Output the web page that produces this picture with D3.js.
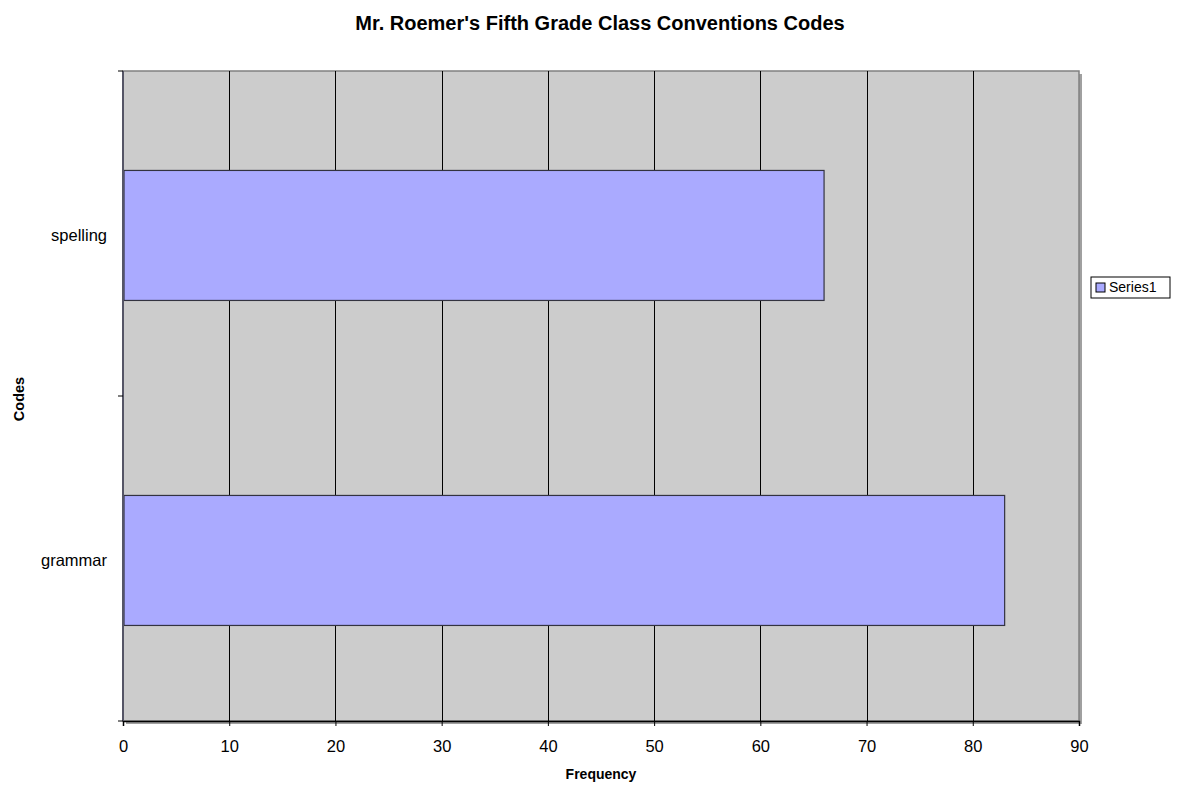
<!DOCTYPE html>
<html>
<head>
<meta charset="utf-8">
<script src="https://cdn.jsdelivr.net/npm/d3@7"></script>
<style>
  html, body { margin: 0; padding: 0; background: #fff; }
  svg { display: block; font-family: "Liberation Sans", Arial, sans-serif; }
</style>
</head>
<body>
<svg id="chart" width="1201" height="787"></svg>
<script>
// Chart data
const categories = ["spelling", "grammar"];
const values = [66, 83];
const xTicks = [0, 10, 20, 30, 40, 50, 60, 70, 80, 90];
const seriesName = "Series1";
const titleText = "Mr. Roemer's Fifth Grade Class Conventions Codes";
const xTitle = "Frequency";
const yTitle = "Codes";

const svg = d3.select("#chart");
const plot = { left: 123, top: 71, right: 1079, bottom: 721 };

const x = d3.scaleLinear().domain([0, 90]).range([plot.left, plot.right]);
const y = d3.scaleBand().domain(categories).range([plot.top, plot.bottom])
  .paddingInner(0.6).paddingOuter(0.3).align(0.51);

// Plot area background with a soft shadow on the right
svg.append("rect")
  .attr("x", plot.left + 3).attr("y", plot.top + 3)
  .attr("width", plot.right - plot.left).attr("height", plot.bottom - plot.top)
  .attr("fill", "#a0a0a0");
svg.append("rect")
  .attr("x", plot.left).attr("y", plot.top)
  .attr("width", plot.right - plot.left).attr("height", plot.bottom - plot.top)
  .attr("fill", "#cccccc")
  .attr("stroke", "#808080").attr("stroke-width", 1.5);

// Vertical gridlines
svg.append("g")
  .selectAll("line")
  .data(xTicks.filter(d => d > 0 && d < 90))
  .join("line")
  .attr("x1", d => Math.round(x(d)) + 0.5).attr("x2", d => Math.round(x(d)) + 0.5)
  .attr("y1", plot.top).attr("y2", plot.bottom)
  .attr("stroke", "#000").attr("stroke-width", 1);

// Bars
svg.append("g")
  .selectAll("rect")
  .data(categories.map((c, i) => ({ c, v: values[i] })))
  .join("rect")
  .attr("x", x(0) + 1)
  .attr("y", d => y(d.c))
  .attr("width", d => x(d.v) - x(0) - 1)
  .attr("height", y.bandwidth())
  .attr("fill", "#aaaaff")
  .attr("stroke", "#333340").attr("stroke-width", 1.2);

// X axis
const xAxis = d3.axisBottom(x).tickValues(xTicks).tickSize(5).tickPadding(14);
const gx = svg.append("g").attr("transform", `translate(0,${plot.bottom})`).call(xAxis);
gx.select(".domain").attr("stroke", "#000").attr("stroke-width", 1.5);
gx.selectAll(".tick line").attr("stroke", "#000");
gx.selectAll(".tick text").attr("font-size", 16.5).attr("fill", "#000")
  .attr("font-family", "'Liberation Sans', Arial, sans-serif");

// Y axis: ticks at category boundaries, labels beside each bar
const yBoundaries = d3.scaleLinear().domain([0, categories.length]).range([plot.top, plot.bottom]);
const gy = svg.append("g");
gy.append("line")
  .attr("x1", plot.left).attr("x2", plot.left)
  .attr("y1", plot.top).attr("y2", plot.bottom)
  .attr("stroke", "#555566").attr("stroke-width", 2);
gy.selectAll("line.tick")
  .data(d3.range(categories.length + 1))
  .join("line").attr("class", "tick")
  .attr("x1", plot.left - 5).attr("x2", plot.left)
  .attr("y1", d => yBoundaries(d)).attr("y2", d => yBoundaries(d))
  .attr("stroke", "#000");
gy.selectAll("text")
  .data(categories)
  .join("text")
  .attr("x", plot.left - 16)
  .attr("y", d => y(d) + y.bandwidth() / 2 + 1)
  .attr("text-anchor", "end").attr("dominant-baseline", "middle")
  .attr("font-size", 16.5).attr("fill", "#000")
  .text(d => d);

// Titles
svg.append("text")
  .attr("x", 600).attr("y", 30)
  .attr("text-anchor", "middle")
  .attr("font-size", 20).attr("font-weight", "bold")
  .text(titleText);
svg.append("text")
  .attr("x", 601).attr("y", 779)
  .attr("text-anchor", "middle")
  .attr("font-size", 14).attr("font-weight", "bold")
  .text(xTitle);
svg.append("text")
  .attr("transform", `translate(24,${(plot.top + plot.bottom) / 2 + 3}) rotate(-90)`)
  .attr("text-anchor", "middle")
  .attr("font-size", 14.5).attr("font-weight", "bold")
  .text(yTitle);

// Legend
const lg = svg.append("g").attr("transform", "translate(1091,277)");
lg.append("rect").attr("x", 0).attr("y", 0).attr("width", 79).attr("height", 21)
  .attr("fill", "#fff").attr("stroke", "#000");
lg.append("rect").attr("x", 5).attr("y", 6).attr("width", 9).attr("height", 9)
  .attr("fill", "#aaaaff").attr("stroke", "#000");
lg.append("text").attr("x", 18).attr("y", 11).attr("dominant-baseline", "middle")
  .attr("font-size", 14).text(seriesName);
</script>
</body>
</html>
